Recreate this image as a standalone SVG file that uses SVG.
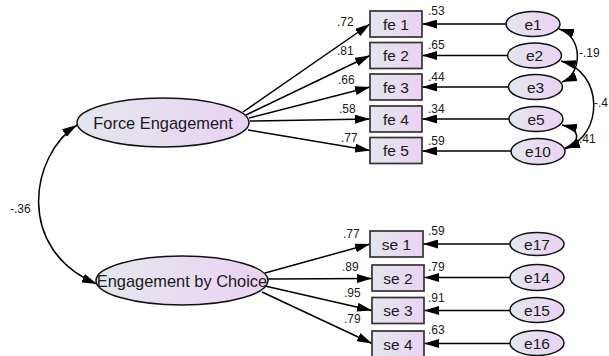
<svg xmlns="http://www.w3.org/2000/svg" width="609" height="356" viewBox="0 0 609 356">
<defs>
<linearGradient id="g" x1="0" y1="0" x2="1" y2="0">
<stop offset="0" stop-color="#e3e7ee"/>
<stop offset="1" stop-color="#ebd2f3"/>
</linearGradient>
<marker id="ah" viewBox="0 0 15 9" refX="15" refY="4.5" markerWidth="15" markerHeight="9" markerUnits="userSpaceOnUse" orient="auto-start-reverse">
<path d="M0,0 L15,4.5 L0,9 z" fill="#000"/>
</marker>
<style>
.lat{fill:url(#g);stroke:#111;stroke-width:1.5}
.obs{fill:url(#g);stroke:#333;stroke-width:1.7}
.err{fill:url(#g);stroke:#111;stroke-width:1.5}
.ln{fill:none;stroke:#000;stroke-width:1.5;marker-end:url(#ah)}
.cv{fill:none;stroke:#000;stroke-width:1.5;marker-start:url(#ah);marker-end:url(#ah)}
.t{font-family:"Liberation Sans",Arial,sans-serif;fill:#1a1a1a}
.big{font-size:16.4px}
.mid{font-size:15.5px;text-anchor:middle}
.sm{font-size:12px}
</style>
</defs>

<g id="connectors">
<path class="cv" d="M77,125 C30,155 15,250 97,284"/>
<path class="ln" d="M243,112 L370,24"/>
<path class="ln" d="M246,115 L370,55.5"/>
<path class="ln" d="M249,118 L370,87"/>
<path class="ln" d="M250,121 L370,119"/>
<path class="ln" d="M248,130 L370,150.5"/>
<path class="ln" d="M265,273 L370,244"/>
<path class="ln" d="M268,279 L372,278.5"/>
<path class="ln" d="M265,286 L372,310.5"/>
<path class="ln" d="M262,292 L372,343.5"/>
<path class="ln" d="M506,24 L422,24"/>
<path class="ln" d="M507,55.5 L422,55.5"/>
<path class="ln" d="M508,87 L422,87"/>
<path class="ln" d="M509,119 L422,119"/>
<path class="ln" d="M511,151 L422,151"/>
<path class="ln" d="M510,244 L423,244"/>
<path class="ln" d="M510,277.5 L424,277.5"/>
<path class="ln" d="M510,310.5 L424,310.5"/>
<path class="ln" d="M510,343.5 L424,343.5"/>
<path class="cv" d="M559,29 C583,36 583,74 562,82"/>
<path class="cv" d="M561,61 C604,72 604,136 565,148"/>
<path class="cv" d="M562,125 C580,129 582,141 565,149"/>
</g>

<g id="labels" class="t sm">
<text x="10" y="213">-.36</text>
<text x="337" y="26">.72</text>
<text x="337" y="55">.81</text>
<text x="338" y="83.5">.66</text>
<text x="339" y="113">.58</text>
<text x="341" y="142">.77</text>
<text x="343" y="238">.77</text>
<text x="342" y="270.5">.89</text>
<text x="344" y="297">.95</text>
<text x="344" y="323">.79</text>
<text x="428" y="15">.53</text>
<text x="428" y="48.5">.65</text>
<text x="428" y="80.5">.44</text>
<text x="428" y="113">.34</text>
<text x="428" y="145">.59</text>
<text x="428" y="235">.59</text>
<text x="428" y="270.5">.79</text>
<text x="428" y="302">.91</text>
<text x="428" y="334">.63</text>
<text x="579" y="57">-.19</text>
<text x="594" y="107">-.4</text>
<text x="579" y="143">.41</text>
</g>

<g id="force-engagement">
<ellipse class="lat" cx="163" cy="122.5" rx="86" ry="24.5"/>
<text class="t big" x="163" y="128.5" text-anchor="middle">Force Engagement</text>
</g>
<g id="engagement-by-choice">
<ellipse class="lat" cx="182" cy="280.5" rx="86" ry="24.5"/>
<text class="t big" x="182" y="286.5" text-anchor="middle">Engagement by Choice</text>
</g>

<g id="fe1"><rect class="obs" x="370" y="11" width="52" height="26"/><text class="t mid" x="396" y="29.5">fe 1</text></g>
<g id="fe2"><rect class="obs" x="370" y="42.5" width="52" height="26"/><text class="t mid" x="396" y="61">fe 2</text></g>
<g id="fe3"><rect class="obs" x="370" y="74" width="52" height="26"/><text class="t mid" x="396" y="92.5">fe 3</text></g>
<g id="fe4"><rect class="obs" x="370" y="106" width="52" height="26"/><text class="t mid" x="396" y="124.5">fe 4</text></g>
<g id="fe5"><rect class="obs" x="370" y="137.5" width="52" height="26"/><text class="t mid" x="396" y="156">fe 5</text></g>

<g id="se1"><rect class="obs" x="370" y="231" width="53" height="26"/><text class="t mid" x="396.5" y="249.5">se 1</text></g>
<g id="se2"><rect class="obs" x="372" y="265" width="52" height="26"/><text class="t mid" x="398" y="283.5">se 2</text></g>
<g id="se3"><rect class="obs" x="372" y="297.5" width="52" height="26"/><text class="t mid" x="398" y="316">se 3</text></g>
<g id="se4"><rect class="obs" x="372" y="331" width="52" height="26"/><text class="t mid" x="398" y="349.5">se 4</text></g>

<g id="e1"><ellipse class="err" cx="533" cy="24" rx="27" ry="12.5"/><text class="t mid" x="533" y="29.5">e1</text></g>
<g id="e2"><ellipse class="err" cx="534.5" cy="55.5" rx="27" ry="12.5"/><text class="t mid" x="534.5" y="61">e2</text></g>
<g id="e3"><ellipse class="err" cx="535.5" cy="87" rx="27" ry="12.5"/><text class="t mid" x="535.5" y="92.5">e3</text></g>
<g id="e5"><ellipse class="err" cx="536" cy="119" rx="27" ry="12.5"/><text class="t mid" x="536" y="124.5">e5</text></g>
<g id="e10"><ellipse class="err" cx="538" cy="151.5" rx="27" ry="13"/><text class="t mid" x="538" y="157">e10</text></g>

<g id="e17"><ellipse class="err" cx="537" cy="244" rx="27" ry="11.5"/><text class="t mid" x="537" y="249.5">e17</text></g>
<g id="e14"><ellipse class="err" cx="537" cy="277.5" rx="27" ry="13"/><text class="t mid" x="537" y="283">e14</text></g>
<g id="e15"><ellipse class="err" cx="537" cy="310" rx="27" ry="12.5"/><text class="t mid" x="537" y="315.5">e15</text></g>
<g id="e16"><ellipse class="err" cx="537" cy="343" rx="27" ry="12.5"/><text class="t mid" x="537" y="348.5">e16</text></g>
</svg>
